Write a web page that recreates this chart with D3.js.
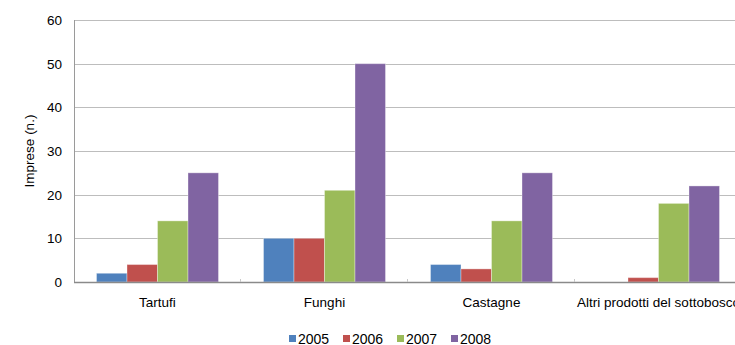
<!DOCTYPE html>
<html>
<head>
<meta charset="utf-8">
<script src="https://cdn.jsdelivr.net/npm/d3@7"></script>
<style>
  body { margin: 0; background: #fff; }
  text { font-family: "Liberation Sans", Arial, sans-serif; fill: #000; }
</style>
</head>
<body>
<div id="chart"></div>
<script>
var categories = ['Tartufi', 'Funghi', 'Castagne', 'Altri prodotti del sottobosco'];
var years = ['2005', '2006', '2007', '2008'];
var v2005 = [2, 10, 4, 0];
var v2006 = [4, 10, 3, 1];
var v2007 = [14, 21, 14, 18];
var v2008 = [25, 50, 25, 22];
var y_ticks = [0, 10, 20, 30, 40, 50, 60];
var colors = ['#4f81bd', '#c0504d', '#9bbb59', '#8064a2'];

var series = [v2005, v2006, v2007, v2008];

var chart_width = 735;
var chart_height = 345;
var plot_left = 74, plot_top = 20, plot_bottom = 282;
var band = 167;

var svg = d3.select('#chart')
    .append('svg')
    .attr('width', chart_width)
    .attr('height', chart_height);

// x scales: one band per category, bars inside
var x_scale = d3.scaleBand()
    .domain(categories)
    .range([plot_left, plot_left + band * categories.length]);

var x_inner = d3.scaleBand()
    .domain(years)
    .range([22.5, band - 22.5]);

// y scale
var y_scale = d3.scaleLinear()
    .domain([0, 60])
    .range([plot_bottom, plot_top]);

// gridlines
svg.selectAll('line.grid')
    .data(y_ticks.filter(function (d) { return d > 0; }))
    .enter()
    .append('line')
    .attr('class', 'grid')
    .attr('x1', plot_left)
    .attr('x2', chart_width)
    .attr('y1', function (d) { return Math.round(y_scale(d)) + 0.5; })
    .attr('y2', function (d) { return Math.round(y_scale(d)) + 0.5; })
    .attr('stroke', '#bdbdbd')
    .attr('stroke-width', 1);

// bars
var groups = svg.selectAll('g.grp')
    .data(categories)
    .enter()
    .append('g')
    .attr('transform', function (d) { return 'translate(' + x_scale(d) + ',0)'; });

groups.selectAll('rect')
    .data(function (d, i) {
        return years.map(function (yr, j) { return { year: yr, value: series[j][i], k: j }; })
            .filter(function (b) { return b.value > 0; });
    })
    .enter()
    .append('rect')
    .attr('x', function (d) { return x_inner(d.year); })
    .attr('y', function (d) { return y_scale(d.value); })
    .attr('width', x_inner.bandwidth())
    .attr('height', function (d) { return plot_bottom - y_scale(d.value); })
    .attr('fill', function (d) { return colors[d.k]; })
    .attr('stroke', 'rgba(255,255,255,0.35)')
    .attr('stroke-width', 1);

// left axis line
svg.append('line')
    .attr('x1', plot_left + 0.5).attr('x2', plot_left + 0.5)
    .attr('y1', plot_top).attr('y2', plot_bottom)
    .attr('stroke', '#9a9a9a');

// bottom axis line
svg.append('line')
    .attr('x1', plot_left).attr('x2', chart_width)
    .attr('y1', plot_bottom + 0.5).attr('y2', plot_bottom + 0.5)
    .attr('stroke', '#8a8a8a')
    .attr('stroke-width', 1.5);

// category separators
svg.selectAll('line.sep')
    .data(categories.slice(1))
    .enter()
    .append('line')
    .attr('x1', function (d) { return x_scale(d) - 0.5; })
    .attr('x2', function (d) { return x_scale(d) - 0.5; })
    .attr('y1', plot_bottom - 3)
    .attr('y2', plot_bottom)
    .attr('stroke', '#c8c8c8');

// y tick labels
svg.selectAll('text.ytick')
    .data(y_ticks)
    .enter()
    .append('text')
    .text(function (d) { return d; })
    .attr('x', 62)
    .attr('y', function (d) { return y_scale(d) + 5; })
    .attr('font-size', 13.5)
    .attr('text-anchor', 'end');

// x labels
svg.selectAll('text.xlab')
    .data(categories)
    .enter()
    .append('text')
    .text(function (d) { return d; })
    .attr('x', function (d) { return x_scale(d) + band / 2; })
    .attr('y', 307)
    .attr('font-size', 13.5)
    .attr('text-anchor', 'middle');

// y axis title
svg.append('text')
    .text('Imprese (n.)')
    .attr('transform', 'translate(34,' + (plot_top + plot_bottom) / 2 + ') rotate(-90)')
    .attr('font-size', 13.5)
    .attr('text-anchor', 'middle');

// legend
var legend_x = [289, 343, 397, 451];
var legend = svg.selectAll('g.leg')
    .data(years)
    .enter()
    .append('g')
    .attr('transform', function (d, i) { return 'translate(' + legend_x[i] + ',338)'; });

legend.append('rect')
    .attr('x', 0).attr('y', -3)
    .attr('width', 7).attr('height', 7)
    .attr('fill', function (d, i) { return colors[i]; });

legend.append('text')
    .text(function (d) { return d; })
    .attr('x', 9)
    .attr('y', 5.5)
    .attr('font-size', 14);
</script>
</body>
</html>
